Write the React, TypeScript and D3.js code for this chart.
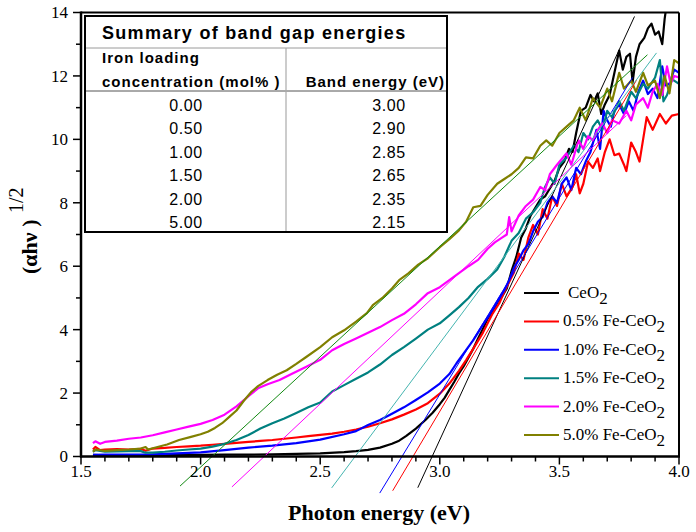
import React from "react";
import * as d3 from "d3";

type P = [number, number];

// ---- data (x: photon energy eV, y: (αhν)^1/2) ----
const ceo2: P[] = [
  [1.55,0.05],[1.6,0.04],[1.7,0.04],[1.8,0.05],[1.9,0.05],[2.0,0.05],[2.1,0.06],[2.2,0.06],[2.3,0.07],[2.4,0.08],
  [2.5,0.1],[2.6,0.14],[2.65,0.17],[2.7,0.21],[2.75,0.28],[2.8,0.4],[2.83,0.5],[2.86,0.65],[2.9,0.88],[2.94,1.15],
  [2.97,1.38],[3.0,1.65],[3.02,1.85],[3.04,2.1],[3.06,2.35],[3.08,2.62],[3.1,2.85],[3.12,3.12],[3.14,3.4],[3.16,3.72],
  [3.18,4.02],[3.2,4.35],[3.22,4.55],[3.24,4.85],[3.26,5.05],[3.28,5.3],[3.3,5.85],[3.32,6.3],[3.34,6.9],[3.36,7.2],
  [3.38,7.6],[3.4,7.85],[3.42,8.1],[3.44,8.2],[3.46,8.45],[3.48,8.7],[3.5,9.1],[3.52,9.3],[3.54,9.7],[3.555,9.6],
  [3.57,10.2],[3.59,10.9],[3.61,11.0],[3.63,11.4],[3.645,11.2],[3.66,11.45],[3.675,10.8],[3.69,11.1],[3.71,11.4],[3.73,12.1],
  [3.75,12.8],[3.765,12.2],[3.78,12.6],[3.795,12.7],[3.806,11.8],[3.82,12.6],[3.835,13.0],[3.855,13.2],[3.87,13.5],[3.885,13.65],
  [3.9,13.3],[3.915,13.4],[3.93,13.0],[3.94,13.8],[3.955,14.6],[3.97,15.0],
];
const fe05: P[] = [
  [1.55,0.22],[1.56,0.3],[1.58,0.2],[1.6,0.22],[1.65,0.23],[1.7,0.22],[1.75,0.24],[1.77,0.18],[1.8,0.25],[1.85,0.27],
  [1.9,0.3],[1.95,0.32],[2.0,0.34],[2.05,0.37],[2.1,0.4],[2.15,0.43],[2.2,0.46],[2.25,0.49],[2.3,0.52],[2.35,0.56],
  [2.4,0.6],[2.45,0.64],[2.5,0.68],[2.55,0.72],[2.6,0.78],[2.65,0.85],[2.7,0.94],[2.75,1.05],[2.8,1.17],[2.85,1.32],
  [2.9,1.48],[2.95,1.68],[3.0,1.98],[3.04,2.3],[3.08,2.7],[3.11,3.04],[3.14,3.4],[3.18,3.9],[3.22,4.5],[3.25,4.85],
  [3.27,5.2],[3.29,5.5],[3.31,5.8],[3.33,6.4],[3.35,6.2],[3.37,6.9],[3.39,7.3],[3.41,7.0],[3.43,7.8],[3.45,7.5],
  [3.47,8.2],[3.49,7.9],[3.51,8.6],[3.53,8.2],[3.555,8.5],[3.57,8.9],[3.585,8.3],[3.6,8.6],[3.62,9.3],[3.64,9.1],
  [3.66,9.4],[3.67,9.0],[3.69,9.6],[3.71,10.0],[3.73,9.5],[3.75,9.55],[3.77,9.2],[3.78,9.0],[3.8,9.9],[3.82,9.6],
  [3.835,9.3],[3.865,10.7],[3.89,10.3],[3.92,10.8],[3.945,10.5],[3.97,10.75],[4.0,10.8],
];
const fe10: P[] = [
  [1.55,0.05],[1.6,0.06],[1.7,0.06],[1.8,0.07],[1.9,0.1],[2.0,0.13],[2.1,0.2],[2.2,0.28],[2.3,0.34],[2.4,0.42],
  [2.5,0.53],[2.6,0.7],[2.65,0.8],[2.7,0.99],[2.75,1.15],[2.8,1.35],[2.85,1.55],[2.9,1.78],[2.95,2.02],[3.0,2.3],
  [3.04,2.6],[3.07,2.94],[3.1,3.25],[3.14,3.67],[3.18,4.15],[3.21,4.5],[3.23,4.75],[3.25,5.0],[3.27,5.25],[3.29,5.56],
  [3.31,5.95],[3.33,6.2],[3.35,6.5],[3.37,6.7],[3.39,7.1],[3.41,7.4],[3.43,7.55],[3.45,8.0],[3.47,8.2],[3.49,8.0],
  [3.51,8.6],[3.53,8.8],[3.55,8.4],[3.57,9.1],[3.59,8.9],[3.61,9.3],[3.63,9.6],[3.655,10.3],[3.67,9.7],[3.685,10.9],
  [3.7,10.6],[3.715,10.4],[3.73,10.9],[3.75,11.1],[3.77,10.8],[3.79,11.2],[3.81,10.9],[3.83,11.5],[3.85,11.85],[3.87,11.43],
  [3.89,11.6],[3.91,11.3],[3.93,12.3],[3.945,11.7],[3.96,11.75],[3.98,12.2],[4.0,12.1],
];
const fe15: P[] = [
  [1.55,0.15],[1.56,0.2],[1.6,0.15],[1.65,0.16],[1.7,0.17],[1.75,0.17],[1.77,0.12],[1.8,0.12],[1.85,0.15],[1.9,0.19],
  [1.95,0.22],[2.0,0.25],[2.05,0.31],[2.1,0.4],[2.15,0.52],[2.2,0.68],[2.25,0.88],[2.3,1.05],[2.35,1.2],[2.4,1.37],
  [2.45,1.55],[2.5,1.7],[2.55,2.05],[2.6,2.25],[2.65,2.45],[2.7,2.65],[2.75,2.9],[2.8,3.2],[2.85,3.45],[2.9,3.72],
  [2.95,4.0],[3.0,4.2],[3.04,4.45],[3.08,4.71],[3.12,5.0],[3.16,5.35],[3.2,5.6],[3.24,5.9],[3.27,6.3],[3.3,6.8],
  [3.33,7.05],[3.36,7.5],[3.39,7.7],[3.42,8.0],[3.44,8.5],[3.46,8.8],[3.48,8.6],[3.5,9.2],[3.53,9.43],[3.56,9.8],
  [3.58,9.6],[3.6,10.2],[3.62,10.0],[3.64,10.4],[3.66,10.6],[3.68,10.3],[3.7,10.9],[3.72,10.7],[3.75,11.2],[3.77,10.9],
  [3.8,11.5],[3.82,11.3],[3.85,11.75],[3.87,11.6],[3.9,11.95],[3.92,12.5],[3.935,11.2],[3.95,11.4],[3.97,11.9],[4.0,11.75],
];
const fe20: P[] = [
  [1.55,0.42],[1.56,0.48],[1.58,0.4],[1.6,0.46],[1.65,0.5],[1.7,0.56],[1.75,0.6],[1.8,0.67],[1.85,0.76],[1.9,0.85],
  [1.95,0.94],[2.0,1.03],[2.05,1.15],[2.1,1.32],[2.15,1.58],[2.2,1.9],[2.24,2.15],[2.28,2.28],[2.33,2.41],[2.38,2.6],
  [2.44,2.82],[2.5,3.05],[2.55,3.35],[2.6,3.55],[2.65,3.72],[2.7,3.9],[2.75,4.08],[2.8,4.3],[2.85,4.5],[2.9,4.8],
  [2.95,5.15],[3.0,5.34],[3.04,5.56],[3.08,5.78],[3.12,6.0],[3.16,6.2],[3.2,6.55],[3.23,6.75],[3.26,6.9],[3.28,7.0],
  [3.29,7.55],[3.3,7.1],[3.33,7.6],[3.36,7.9],[3.39,8.1],[3.42,8.5],[3.44,8.4],[3.46,8.9],[3.49,9.2],[3.53,9.56],
  [3.55,9.2],[3.58,9.97],[3.6,9.7],[3.62,10.1],[3.64,9.97],[3.66,10.3],[3.68,10.5],[3.7,10.2],[3.72,10.6],[3.75,10.5],
  [3.78,10.9],[3.8,10.6],[3.82,11.1],[3.85,11.3],[3.87,11.0],[3.89,11.5],[3.91,11.75],[3.93,11.4],[3.95,12.3],[3.965,11.75],
  [3.98,12.0],[4.0,11.95],
];
const fe50: P[] = [
  [1.55,0.15],[1.56,0.22],[1.6,0.18],[1.65,0.2],[1.7,0.22],[1.75,0.25],[1.77,0.3],[1.78,0.22],[1.82,0.3],[1.86,0.38],
  [1.91,0.52],[1.96,0.62],[2.0,0.7],[2.03,0.78],[2.06,0.9],[2.09,1.05],[2.12,1.25],[2.15,1.45],[2.18,1.75],[2.21,2.02],
  [2.24,2.22],[2.28,2.41],[2.32,2.58],[2.36,2.72],[2.4,2.92],[2.44,3.13],[2.5,3.45],[2.55,3.76],[2.6,3.98],[2.65,4.25],
  [2.695,4.52],[2.72,4.77],[2.76,5.0],[2.8,5.3],[2.83,5.56],[2.87,5.78],[2.91,6.05],[2.95,6.25],[3.0,6.6],[3.04,6.85],
  [3.08,7.13],[3.11,7.4],[3.14,7.86],[3.17,7.9],[3.2,8.25],[3.24,8.6],[3.27,8.75],[3.3,8.9],[3.33,9.1],[3.36,9.43],
  [3.39,9.4],[3.42,9.8],[3.445,9.97],[3.47,9.8],[3.5,10.2],[3.53,10.4],[3.56,10.6],[3.585,11.0],[3.61,10.6],[3.64,11.3],
  [3.67,11.0],[3.7,11.6],[3.72,11.2],[3.75,12.1],[3.77,11.6],[3.8,11.85],[3.82,11.5],[3.85,12.1],[3.87,11.7],[3.9,11.85],
  [3.92,11.3],[3.94,12.0],[3.96,11.45],[3.98,12.5],[4.0,12.4],
];

const seriesData = [ceo2, fe05, fe10, fe15, fe20, fe50];
const seriesColors = ["#000000", "#ff0000", "#0000ff", "#008080", "#ff00ff", "#808000"];
const legendPrefix = ["CeO", "0.5% Fe-CeO", "1.0% Fe-CeO", "1.5% Fe-CeO", "2.0% Fe-CeO", "5.0% Fe-CeO"];

// Tauc fit lines: band gap intercept, slope, x range
const fitEg = [2.968, 2.888, 2.842, 2.646, 2.266, 2.048];
const fitSlope = [16.4, 12.7, 12.4, 10.1, 7.1, 6.96];
const fitX0 = [2.908, 2.803, 2.749, 2.548, 2.131, 1.914];
const fitX1 = [3.814, 3.822, 3.806, 3.906, 3.78, 3.868];
const fitColors = ["#000000", "#ff0000", "#0000ff", "#45b5b0", "#ff00ff", "#138a13"];

// table
const tableConc = ["0.00", "0.50", "1.00", "1.50", "2.00", "5.00"];
const tableEnergy = ["3.00", "2.90", "2.85", "2.65", "2.35", "2.15"];

const xTickLabels = ["1.5", "2.0", "2.5", "3.0", "3.5", "4.0"];
const yTickLabels = ["0", "2", "4", "6", "8", "10", "12", "14"];

const W = 696, H = 532;
const L = 81, R = 679, T = 12.5, B = 456.5;

export default function App() {
  const x = d3.scaleLinear().domain([1.5, 4]).range([L, R]);
  const y = d3.scaleLinear().domain([0, 14]).range([B, T]);
  const line = d3.line<P>().x((d) => x(d[0])).y((d) => y(d[1]));

  const xMinor = d3.range(15, 41).map((v) => v / 10);
  const yMinor = d3.range(0, 15);
  const serif = "'Liberation Serif', 'Times New Roman', serif";
  const sans = "'Liberation Sans', Arial, sans-serif";

  const rowBase = [111, 134.4, 157.8, 181.2, 204.6, 228];

  return (
    <svg width={W} height={H} style={{ position: "absolute", left: 0, top: 0, background: "#fff" }}>
      <defs>
        <clipPath id="plotClip">
          <rect x={L} y={T} width={R - L} height={B - T} />
        </clipPath>
      </defs>
      <rect x={0} y={0} width={W} height={H} fill="#fff" />

      {/* curves */}
      <g clipPath="url(#plotClip)">
        {seriesData.map((s, i) => (
          <path key={i} d={line(s) || ""} fill="none" stroke={seriesColors[i]} strokeWidth={2.2} strokeLinejoin="round" />
        ))}
      </g>
      {/* fit lines */}
      {fitEg.map((eg, i) => {
        const pts: P[] = [
          [fitX0[i], fitSlope[i] * (fitX0[i] - eg)],
          [fitX1[i], fitSlope[i] * (fitX1[i] - eg)],
        ];
        return <path key={i} d={line(pts) || ""} stroke={fitColors[i]} strokeWidth={1} fill="none" />;
      })}

      {/* frame */}
      <line x1={L} x2={R} y1={T} y2={T} stroke="#000" strokeWidth={2} />
      <line x1={R} x2={R} y1={T} y2={B} stroke="#000" strokeWidth={2} />
      <line x1={L} x2={L} y1={T - 1} y2={B + 1} stroke="#000" strokeWidth={2.5} />
      <line x1={L - 1} x2={R + 1} y1={B} y2={B} stroke="#000" strokeWidth={2.5} />

      {/* x ticks */}
      {xMinor.map((v, i) => {
        const major = i % 5 === 0;
        return <line key={i} x1={x(v)} x2={x(v)} y1={B} y2={B + (major ? 8 : 5)} stroke="#000" strokeWidth={1.5} />;
      })}
      {xTickLabels.map((t) => (
        <text key={t} x={x(+t)} y={477} textAnchor="middle" fontFamily={serif} fontSize={17}>{t}</text>
      ))}
      {/* y ticks */}
      {yMinor.map((v) => {
        const major = v % 2 === 0;
        return <line key={v} x1={L - (major ? 8 : 5)} x2={L} y1={y(v)} y2={y(v)} stroke="#000" strokeWidth={1.5} />;
      })}
      {yTickLabels.map((t) => (
        <text key={t} x={68} y={y(+t)} dy="0.35em" textAnchor="end" fontFamily={serif} fontSize={17}>{t}</text>
      ))}

      {/* axis titles */}
      <text x={379} y={520} textAnchor="middle" fontFamily={serif} fontWeight="bold" fontSize={22}>Photon energy (eV)</text>
      <g transform="translate(37,274) rotate(-90)">
        <text x={0} y={0} fontFamily={serif} fontWeight="bold" fontSize={22}>(αhν )</text>
        <text x={61} y={-14} fontFamily={serif} fontSize={20}>1/2</text>
      </g>

      {/* legend */}
      {legendPrefix.map((lab, i) => {
        const ly = 293 + i * 28.4;
        return (
          <g key={i}>
            <line x1={524} x2={559} y1={ly} y2={ly} stroke={seriesColors[i]} strokeWidth={2} />
            <text x={i === 0 ? 568 : 563} y={ly + 5} fontFamily={serif} fontSize={17}>
              {lab}
              <tspan dy={6} fontSize={17}>2</tspan>
            </text>
          </g>
        );
      })}

      {/* table */}
      <rect x={85} y={16} width={362} height={216} fill="#fff" stroke="none" />
      <line x1={85} x2={447} y1={48} y2={48} stroke="#9a9a9a" strokeWidth={1} />
      <line x1={85} x2={447} y1={91} y2={91} stroke="#555" strokeWidth={1} />
      <line x1={286} x2={286} y1={48} y2={232} stroke="#aaa" strokeWidth={1.2} />
      <rect x={85} y={16} width={362} height={216} fill="none" stroke="#000" strokeWidth={2} />
      <text x={102} y={38.5} fontFamily={sans} fontWeight="bold" fontSize={18} letterSpacing={1.3}>Summary of band gap energies</text>
      <text x={102} y={63} fontFamily={sans} fontWeight="bold" fontSize={15} letterSpacing={1}>Iron loading</text>
      <text x={102} y={86.5} fontFamily={sans} fontWeight="bold" fontSize={15} letterSpacing={1}>concentration (mol% )</text>
      <text x={445} y={86.5} textAnchor="end" fontFamily={sans} fontWeight="bold" fontSize={15} letterSpacing={1}>Band energy (eV)</text>
      {tableConc.map((c, i) => (
        <text key={c} x={186} y={rowBase[i]} textAnchor="middle" fontFamily={sans} fontSize={16} letterSpacing={0.6}>{c}</text>
      ))}
      {tableEnergy.map((e, i) => (
        <text key={i} x={389} y={rowBase[i]} textAnchor="middle" fontFamily={sans} fontSize={16} letterSpacing={0.6}>{e}</text>
      ))}
    </svg>
  );
}
